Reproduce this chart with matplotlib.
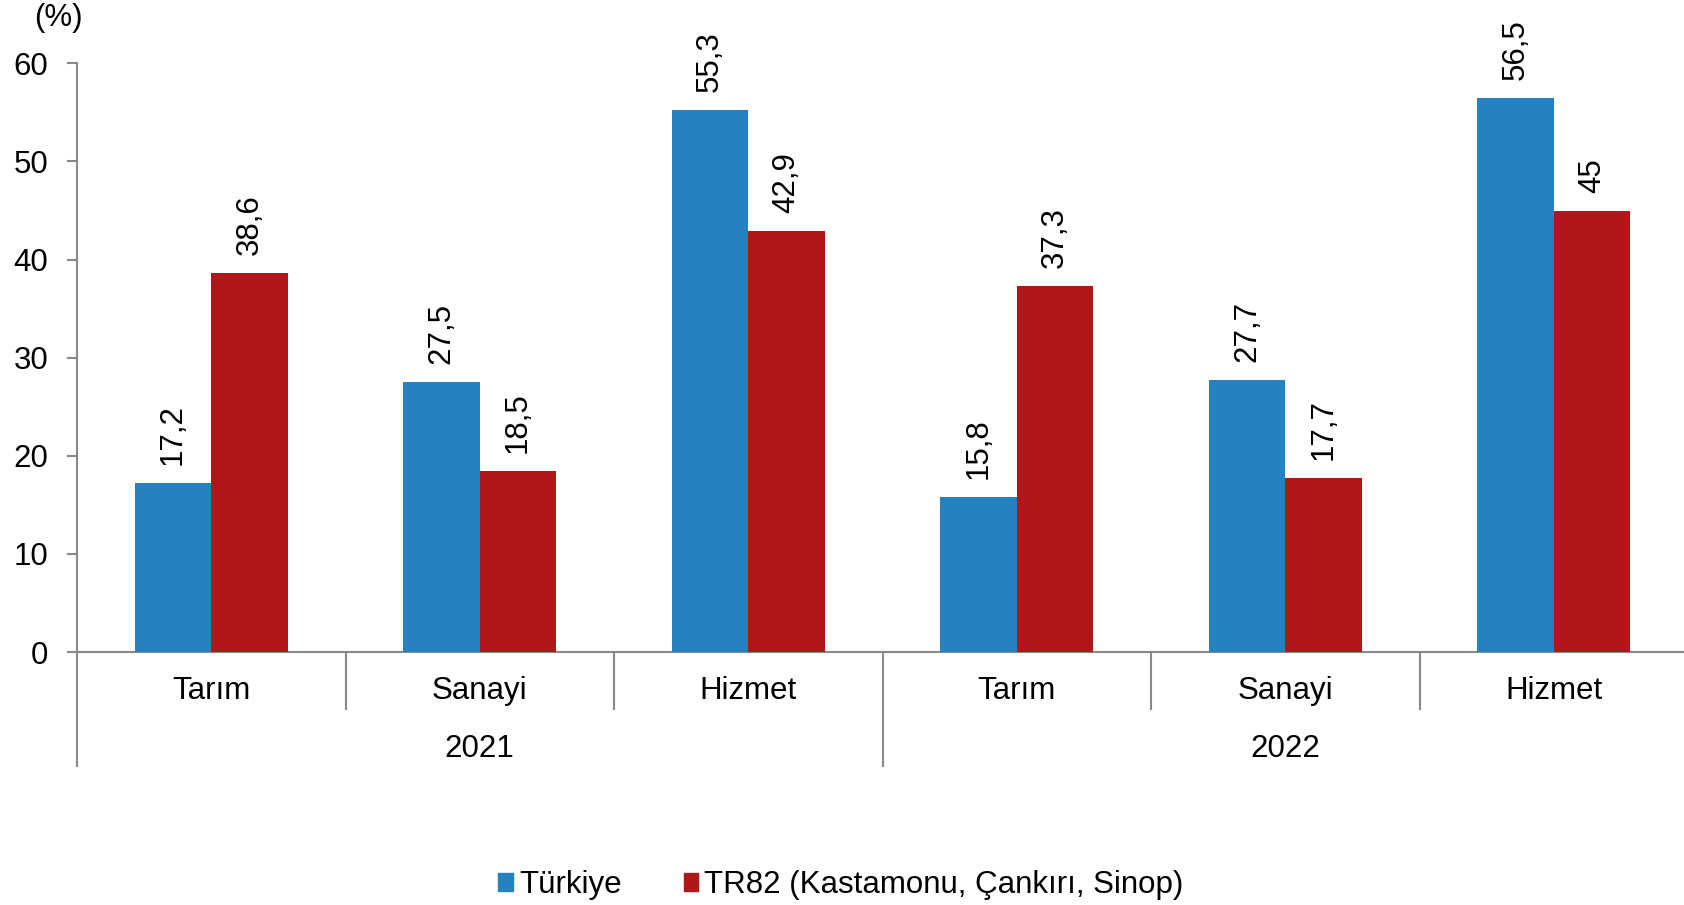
import matplotlib
matplotlib.use("Agg")
import matplotlib.pyplot as plt
from matplotlib.patches import Patch
import numpy as np

categories = ["Tarım", "Sanayi", "Hizmet", "Tarım", "Sanayi", "Hizmet"]
years = ["2021", "2022"]
turkiye = [17.2, 27.5, 55.3, 15.8, 27.7, 56.5]
tr82 = [38.6, 18.5, 42.9, 37.3, 17.7, 45]
series_names = ["Türkiye", "TR82 (Kastamonu, Çankırı, Sinop)"]
yticks = [0, 10, 20, 30, 40, 50, 60]

blue = "#2581C0"
red = "#B01718"
gray = "#898989"
FONT = ["Liberation Sans", "DejaVu Sans"]
plt.rcParams['font.family'] = FONT

W, H = 1684, 905
fig = plt.figure(figsize=(W / 100, H / 100), dpi=100)
x0, x1 = 77, 1688
y0, y60 = 652, 63.4
ax = fig.add_axes([x0 / W, 1 - y0 / H, (x1 - x0) / W, (y0 - y60) / H])

n = len(categories)
xc = np.arange(n) + 0.5
bw = 0.284
b1 = ax.bar(xc - bw / 2, turkiye, bw, color=blue, zorder=3)
b2 = ax.bar(xc + bw / 2, tr82, bw, color=red, zorder=3)

def fmt(v):
    return f"{v:g}".replace(".", ",")

for xs, vals in [(xc - bw / 2, turkiye), (xc + bw / 2, tr82)]:
    for x, v in zip(xs, vals):
        ax.annotate(fmt(v), (x, v), xytext=(0, 18), textcoords="offset pixels",
                    rotation=90, ha="center", va="bottom", fontsize=22.5)

ax.set_xlim(0, n)
ax.set_ylim(0, 60)
ax.set_yticks(yticks)
ax.set_yticklabels([str(t) for t in yticks], fontsize=22.5)
ax.tick_params(axis="y", direction="out", length=7.2, width=1.5, color=gray, pad=13.5)
ax.set_xticks([])
for s in ["top", "right", "left"]:
    ax.spines[s].set_visible(False)
ax.spines["bottom"].set_color(gray)
ax.spines["bottom"].set_linewidth(1.5)

span = y0 - y60
cat_bot = -(709 - y0) / span
year_bot = -(766 - y0) / span
trans = ax.get_xaxis_transform()
# left axis line extended
ax.plot([0, 0], [1, year_bot], transform=trans, color=gray, lw=1.5, clip_on=False, zorder=4)
for k in range(1, n):
    bot = year_bot if k % 3 == 0 else cat_bot
    ax.plot([k, k], [0, bot], transform=trans, color=gray, lw=1.5, clip_on=False)

cat_y = -(691 - y0) / span
year_y = -(749 - y0) / span
for x, c in zip(xc, categories):
    ax.text(x, cat_y, c, transform=trans, ha="center", va="center", fontsize=22.5)
for i, yr in enumerate(years):
    ax.text(1.5 + 3 * i, year_y, yr, transform=trans, ha="center", va="center", fontsize=22.5)

fig.text(58 / W, 1 - 18 / H, "(%)", ha="center", va="center", fontsize=22.5)

handles = [Patch(color=blue), Patch(color=red)]
leg = fig.legend(handles, series_names, loc="center", bbox_to_anchor=(841 / W, 1 - 885 / H),
                 ncol=2, frameon=False, handlelength=0.45, handleheight=0.55, handletextpad=0.2,
                 columnspacing=2.0, prop={"family": ["Liberation Sans Narrow", "Liberation Sans"], "size": 22.5})

fig.savefig("out.png", dpi=100)
